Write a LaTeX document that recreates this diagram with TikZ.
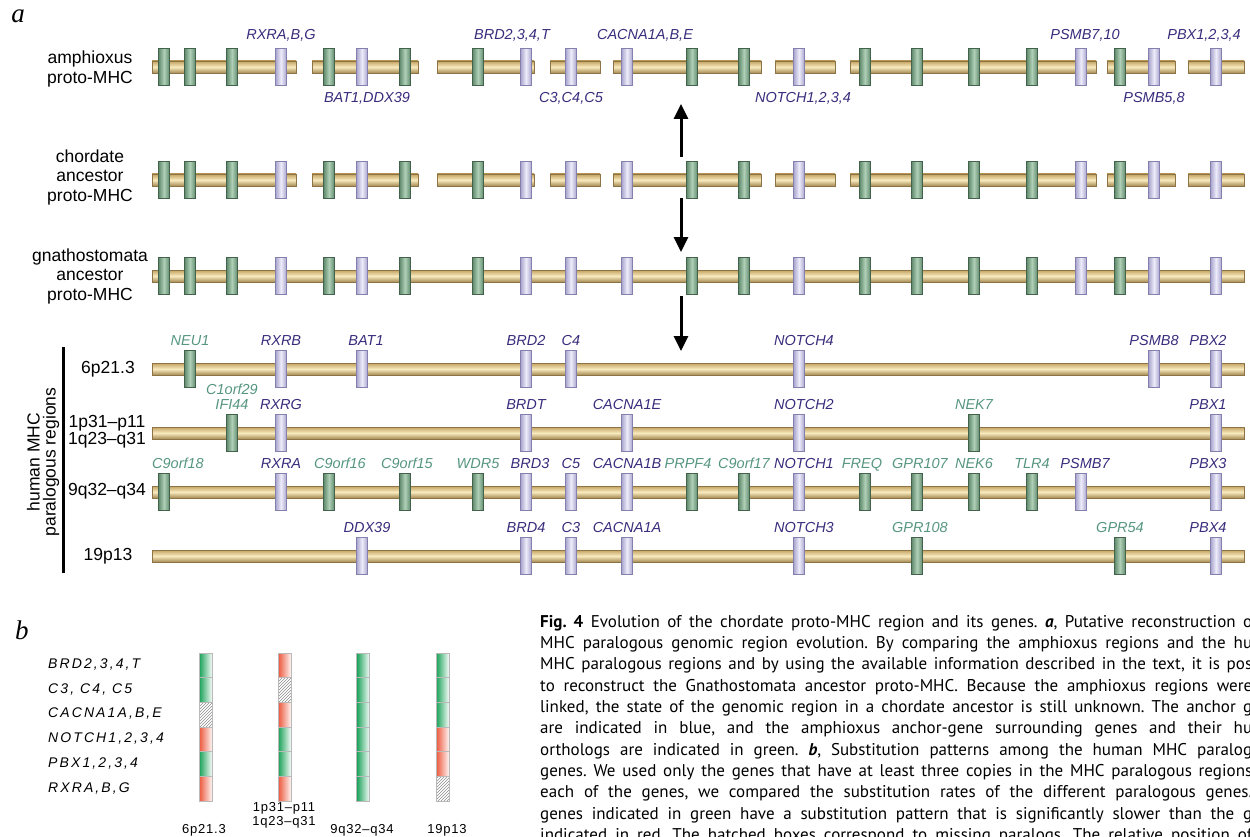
\documentclass[tikz,border=0pt]{standalone}
\usepackage{fontspec}
\usetikzlibrary{arrows.meta, positioning, patterns}
\setmainfont{Liberation Sans}
\newfontfamily\capfont{PT Sans}
\newfontfamily\panelfont{Liberation Serif}
\newfontfamily\wideit[LetterSpace=15]{Liberation Sans}
\newfontfamily\widesf[LetterSpace=6]{Liberation Sans}
\frenchspacing
\definecolor{barlight}{RGB}{248,234,190}
\definecolor{bardark}{RGB}{194,162,96}
\definecolor{barline}{RGB}{140,116,70}
\definecolor{greendark}{RGB}{96,138,108}
\definecolor{greenlight}{RGB}{176,208,184}
\definecolor{greenline}{RGB}{66,98,76}
\definecolor{lavdark}{RGB}{168,164,205}
\definecolor{lavlight}{RGB}{238,236,250}
\definecolor{lavline}{RGB}{132,128,174}
\definecolor{anchortext}{RGB}{58,44,124}
\definecolor{flanktext}{RGB}{86,150,128}
\definecolor{slowgreen}{RGB}{22,160,86}
\definecolor{fastred}{RGB}{236,86,58}
\tikzset{
  % chromosome segment
  chrom/.style={draw=barline, line width=0.5pt, top color=bardark, bottom color=bardark!85!black,
    middle color=barlight},
  % gene boxes (g = flanking gene, b = anchor gene)
  geneg/.style={rectangle, inner sep=0pt, minimum width=11pt, minimum height=37pt,
    draw=greenline, line width=0.5pt, left color=greendark, right color=greendark, middle color=greenlight},
  geneb/.style={rectangle, inner sep=0pt, minimum width=11pt, minimum height=37pt,
    draw=lavline, line width=0.5pt, left color=lavdark, right color=lavdark, middle color=lavlight},
  % gene names
  labg/.style={font=\itshape\fontsize{14.5}{16}\selectfont, text=flanktext, inner sep=0pt,
    text height=10.5pt, text depth=0pt},
  labb/.style={font=\itshape\fontsize{14.5}{16}\selectfont, text=anchortext, inner sep=0pt,
    text height=10.5pt, text depth=0pt},
  rowlabel/.style={font=\fontsize{17.5}{19.5}\selectfont, align=center, inner sep=0pt},
  evoarrow/.style={-{Triangle[length=15pt, width=14pt]}, line width=3pt},
  % panel b cells
  cellbox/.style={rectangle, inner sep=0pt, minimum width=13pt, minimum height=24.67pt,
    draw=gray!55, line width=0.4pt},
  slowcell/.style={cellbox, left color=slowgreen, right color=slowgreen!4},
  fastcell/.style={cellbox, left color=fastred, right color=fastred!6},
  misscell/.style={cellbox, pattern=north east lines, pattern color=gray!90},
  genename/.style={font=\wideit\itshape\fontsize{14}{16}\selectfont, anchor=west, inner sep=0pt},
  regname/.style={font=\widesf\fontsize{13}{14}\selectfont, align=center, inner sep=0pt},
  capline/.style={font=\capfont\fontsize{17}{20}\selectfont, anchor=west, inner sep=0pt},
  panel/.style={font=\panelfont\itshape\fontsize{27}{27}\selectfont, inner sep=0pt}
}
\def\protogenes{164/g,190/g,232/g,281/b,329/g,362/b,405/g,478/g,526/b,571/b,627/b,692/g,744/g,799/b,865/g,917/g,974/g,1032/g,1081/b,1120/g,1154/b,1216/b}
\def\protosegs{152/296,312/418,437/534,550/600,613/761,775/835,850/1096,1107/1175,1188/1244}
\begin{document}
\begin{tikzpicture}[x=1pt, y=-1pt]
  \useasboundingbox (0,0) rectangle (1250,837);
  \clip (0,0) rectangle (1250,837);

  % panel letters
  \node[panel] (pa) at (18,16) {a};
  \node[panel] (pb) at (22,630) {b};

  % ---------------- panel a: ancestral rows ----------------
  \node[rowlabel] (lamph) at (90,69) {amphioxus\\proto-MHC};
  \node[rowlabel] (lchor) at (90,177) {chordate\\ancestor\\proto-MHC};
  \node[rowlabel] (lgnat) at (90,276) {gnathostomata\\ancestor\\proto-MHC};

  \foreach \a/\b in \protosegs {
    \path[chrom] (\a,61) rectangle (\b,73);
    \path[chrom] (\a,174) rectangle (\b,186);
  }
  \path[chrom] (152,270) rectangle (1244,282);

  \foreach \x/\t in \protogenes {
    \node[gene\t] (amph-\x) at (\x,67) {};
    \node[gene\t] (chor-\x) at (\x,180) {};
    \node[gene\t] (gnat-\x) at (\x,276) {};
  }

  % amphioxus gene names
  \node[labb, above=9pt of amph-281] (nrxr) {RXRA,B,G};
  \node[labb, above=9pt of amph-526, xshift=-14pt] (nbrd) {BRD2,3,4,T};
  \node[labb, above=9pt of amph-627, xshift=18pt] (ncac) {CACNA1A,B,E};
  \node[labb, above=9pt of amph-1081, xshift=4pt] (npsa) {PSMB7,10};
  \node[labb, above=9pt of amph-1216, xshift=-12pt] (npbx) {PBX1,2,3,4};
  \node[labb, below=6pt of amph-362, xshift=5pt] (nbat) {BAT1,DDX39};
  \node[labb, below=6pt of amph-571] (ncc) {C3,C4,C5};
  \node[labb, below=6pt of amph-799, xshift=4pt] (nnot) {NOTCH1,2,3,4};
  \node[labb, below=6pt of amph-1154] (npsb) {PSMB5,8};

  % evolution arrows
  \coordinate (up0) at (681,157);
  \coordinate (up1) at (681,104);
  \coordinate (dn0) at (681,198);
  \coordinate (dn1) at (681,252);
  \coordinate (dn2) at (681,296);
  \coordinate (dn3) at (681,351);
  \draw[evoarrow] (up0) -- (up1);
  \draw[evoarrow] (dn0) -- (dn1);
  \draw[evoarrow] (dn2) -- (dn3);

  % ---------------- panel a: human paralogous regions ----------------
  \node[rowlabel] (l6p) at (108,369) {6p21.3};
  \node[rowlabel, font=\fontsize{17.5}{17}\selectfont] (l1p) at (107,432) {1p31–p11\\1q23–q31};
  \node[rowlabel] (l9q) at (107,491) {9q32–q34};
  \node[rowlabel] (l19p) at (108,556) {19p13};
  \node[rowlabel, rotate=90, font=\fontsize{17.5}{16}\selectfont] (lhum) at (43,462)
    {human MHC\\paralogous regions};
  \draw[line width=3pt] (63,347) -- (63,573);

  \foreach \y in {369,433,492,556}
    \path[chrom] (152,\y-6) rectangle (1244,\y+6);

  \foreach \x/\t/\n/\s in {190/g/NEU1/0, 281/b/RXRB/0, 362/b/BAT1/4, 526/b/BRD2/0,
      571/b/C4/0, 799/b/NOTCH4/5, 1154/b/PSMB8/0, 1216/b/PBX2/-8} {
    \node[gene\t] (hsa6-\x) at (\x,369) {};
    \node[lab\t, above=5pt of hsa6-\x, xshift=\s pt] (nsa6-\x) {\n};
  }
  \foreach \x/\t/\n/\s in {232/g/IFI44/0, 281/b/RXRG/0, 526/b/BRDT/0, 627/b/CACNA1E/0,
      799/b/NOTCH2/5, 974/g/NEK7/0, 1216/b/PBX1/-8} {
    \node[gene\t] (hsa1-\x) at (\x,433) {};
    \node[lab\t, above=5pt of hsa1-\x, xshift=\s pt] (nsa1-\x) {\n};
  }
  \node[labg, above=3.5pt of nsa1-232] (nc1o) {C1orf29};
  \foreach \x/\t/\n/\s in {164/g/C9orf18/14, 281/b/RXRA/0, 329/g/C9orf16/11, 405/g/C9orf15/2,
      478/g/WDR5/0, 526/b/BRD3/4, 571/b/C5/0, 627/b/CACNA1B/0, 692/g/PRPF4/-4,
      744/g/C9orf17/0, 799/b/NOTCH1/5, 865/g/FREQ/-3, 917/g/GPR107/3, 974/g/NEK6/0,
      1032/g/TLR4/0, 1081/b/PSMB7/4, 1216/b/PBX3/-8} {
    \node[gene\t] (hsa9-\x) at (\x,492) {};
    \node[lab\t, above=5pt of hsa9-\x, xshift=\s pt] (nsa9-\x) {\n};
  }
  \foreach \x/\t/\n/\s in {362/b/DDX39/5, 526/b/BRD4/0, 571/b/C3/0, 627/b/CACNA1A/0,
      799/b/NOTCH3/5, 917/g/GPR108/3, 1120/g/GPR54/0, 1216/b/PBX4/-8} {
    \node[gene\t] (hsa19-\x) at (\x,556) {};
    \node[lab\t, above=5pt of hsa19-\x, xshift=\s pt] (nsa19-\x) {\n};
  }

  % ---------------- panel b ----------------
  \node[genename] (gb1) at (48,665) {BRD2,3,4,T};
  \node[genename] (gb2) at (48,690) {C3, C4, C5};
  \node[genename] (gb3) at (48,714) {CACNA1A,B,E};
  \node[genename] (gb4) at (48,739) {NOTCH1,2,3,4};
  \node[genename] (gb5) at (48,764) {PBX1,2,3,4};
  \node[genename] (gb6) at (48,789) {RXRA,B,G};

  \foreach \c/\cx/\pat in {1/205.5/{slow,slow,miss,fast,slow,fast},
      2/284.5/{fast,miss,fast,slow,slow,fast},
      3/363/{slow,slow,slow,slow,slow,slow},
      4/442.5/{slow,slow,slow,fast,fast,miss}} {
    \foreach \k [count=\r] in \pat
      \node[\k cell] (c\c-\r) at (\cx,{653+24.67*(\r-0.5)}) {};
  }

  \node[regname, anchor=base] (rb1) at (204,833) {6p21.3};
  \node[regname, anchor=base, font=\widesf\fontsize{13}{13.5}\selectfont] (rb2) at (284,825) {1p31–p11\\1q23–q31};
  \node[regname, anchor=base] (rb3) at (362,833) {9q32–q34};
  \node[regname, anchor=base] (rb4) at (447,833) {19p13};

  % caption
  \node[capline] (cap1) at (540,623) {\makebox[712pt][s]{\textbf{Fig. 4} Evolution of the chordate proto-MHC region and its genes. \textbf{\textit{a}}, Putative reconstruction o}};
  \node[capline] (cap2) at (540,644) {\makebox[712pt][s]{MHC paralogous genomic region evolution. By comparing the amphioxus regions and the hu}};
  \node[capline] (cap3) at (540,665) {\makebox[712pt][s]{MHC paralogous regions and by using the available information described in the text, it is pos}};
  \node[capline] (cap4) at (540,687) {\makebox[712pt][s]{to reconstruct the Gnathostomata ancestor proto-MHC. Because the amphioxus regions were}};
  \node[capline] (cap5) at (540,708) {\makebox[712pt][s]{linked, the state of the genomic region in a chordate ancestor is still unknown. The anchor g}};
  \node[capline] (cap6) at (540,729) {\makebox[712pt][s]{are indicated in blue, and the amphioxus anchor-gene surrounding genes and their hu}};
  \node[capline] (cap7) at (540,751) {\makebox[712pt][s]{orthologs are indicated in green. \textbf{\textit{b}}, Substitution patterns among the human MHC paralog}};
  \node[capline] (cap8) at (540,772) {\makebox[712pt][s]{genes. We used only the genes that have at least three copies in the MHC paralogous regions}};
  \node[capline] (cap9) at (540,793) {\makebox[712pt][s]{each of the genes, we compared the substitution rates of the different paralogous genes.}};
  \node[capline] (cap10) at (540,815) {\makebox[712pt][s]{genes indicated in green have a substitution pattern that is significantly slower than the g}};
  \node[capline] (cap11) at (540,836) {\makebox[712pt][s]{indicated in red. The hatched boxes correspond to missing paralogs. The relative position of}};
\end{tikzpicture}
\end{document}
